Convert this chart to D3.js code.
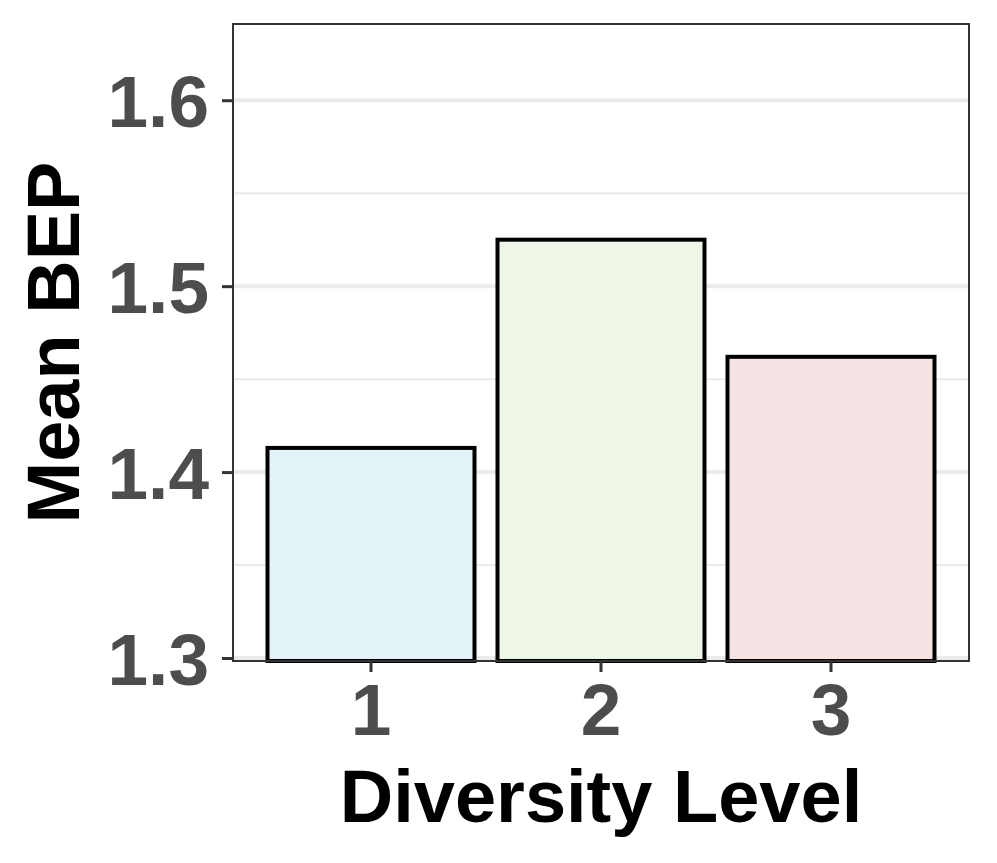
<!DOCTYPE html>
<html>
<head>
<meta charset="utf-8">
<script src="https://cdn.jsdelivr.net/npm/d3@7"></script>
<style>
  body { margin: 0; background: #fff; }
  svg { display: block; }
  text { font-family: "Liberation Sans", Arial, Helvetica, sans-serif; font-weight: bold; }
</style>
</head>
<body>
<svg id="chart" width="997" height="863"></svg>
<script>
// data
const levels = ['1', '2', '3']
const meanBEP = [1.413, 1.525, 1.462]
const barColors = ['#e3f2f7', '#eef6e7', '#f6e4e4']
const yTicks = [1.3, 1.4, 1.5, 1.6]
const yMinor = [1.35, 1.45, 1.55]

const panel = {left: 233, top: 24, right: 969, bottom: 661}

const svg = d3.select('#chart')

// ggplot-like discrete axis: 0.6 expansion on each side
const x = d3.scaleBand()
  .domain(levels)
  .range([panel.left, panel.right])
  .paddingInner(0.1)
  .paddingOuter(0.15)

const y = d3.scaleLinear()
  .domain([1.2984, 1.641])
  .range([panel.bottom, panel.top])

// grid
svg.append('g').selectAll('line')
  .data(yMinor)
  .join('line')
  .attr('x1', panel.left).attr('x2', panel.right)
  .attr('y1', d => y(d)).attr('y2', d => y(d))
  .attr('stroke', '#ebebeb').attr('stroke-width', 2)

svg.append('g').selectAll('line')
  .data(yTicks)
  .join('line')
  .attr('x1', panel.left).attr('x2', panel.right)
  .attr('y1', d => y(d)).attr('y2', d => y(d))
  .attr('stroke', '#ebebeb').attr('stroke-width', 4)

// bars
svg.append('g').selectAll('rect')
  .data(levels)
  .join('rect')
  .attr('x', d => x(d))
  .attr('width', x.bandwidth())
  .attr('y', (d, i) => y(meanBEP[i]))
  .attr('height', (d, i) => y(y.domain()[0]) - y(meanBEP[i]))
  .attr('fill', (d, i) => barColors[i])
  .attr('stroke', '#000')
  .attr('stroke-width', 4)

// panel border
svg.append('rect')
  .attr('x', panel.left).attr('y', panel.top)
  .attr('width', panel.right - panel.left).attr('height', panel.bottom - panel.top)
  .attr('fill', 'none')
  .attr('stroke', '#333').attr('stroke-width', 2)

// y axis
const yAxis = svg.append('g')
  .attr('transform', `translate(${panel.left},0)`)
  .call(d3.axisLeft(y).tickValues(yTicks).tickFormat(d3.format('.1f')).tickSize(11).tickPadding(13))
yAxis.select('.domain').remove()
yAxis.selectAll('.tick line').attr('stroke', '#333').attr('stroke-width', 3)
yAxis.selectAll('.tick text')
  .attr('fill', '#4d4d4d')
  .attr('font-size', 73)
  .attr('font-weight', 'bold')
  .attr('dy', '0.36em')

// x axis
const xAxis = svg.append('g')
  .attr('transform', `translate(0,${panel.bottom})`)
  .call(d3.axisBottom(x).tickSize(11).tickPadding(10))
xAxis.select('.domain').remove()
xAxis.selectAll('.tick line').attr('stroke', '#333').attr('stroke-width', 3)
xAxis.selectAll('.tick text')
  .attr('fill', '#4d4d4d')
  .attr('font-size', 73)
  .attr('font-weight', 'bold')
  .attr('dy', '0.72em')

// axis titles
svg.append('text')
  .attr('x', (panel.left + panel.right) / 2)
  .attr('y', 822)
  .attr('text-anchor', 'middle')
  .attr('font-size', 74)
  .attr('fill', '#000')
  .text('Diversity Level')

svg.append('text')
  .attr('transform', `translate(79,${(panel.top + panel.bottom) / 2}) rotate(-90)`)
  .attr('text-anchor', 'middle')
  .attr('font-size', 74)
  .attr('fill', '#000')
  .text('Mean BEP')
</script>
</body>
</html>
